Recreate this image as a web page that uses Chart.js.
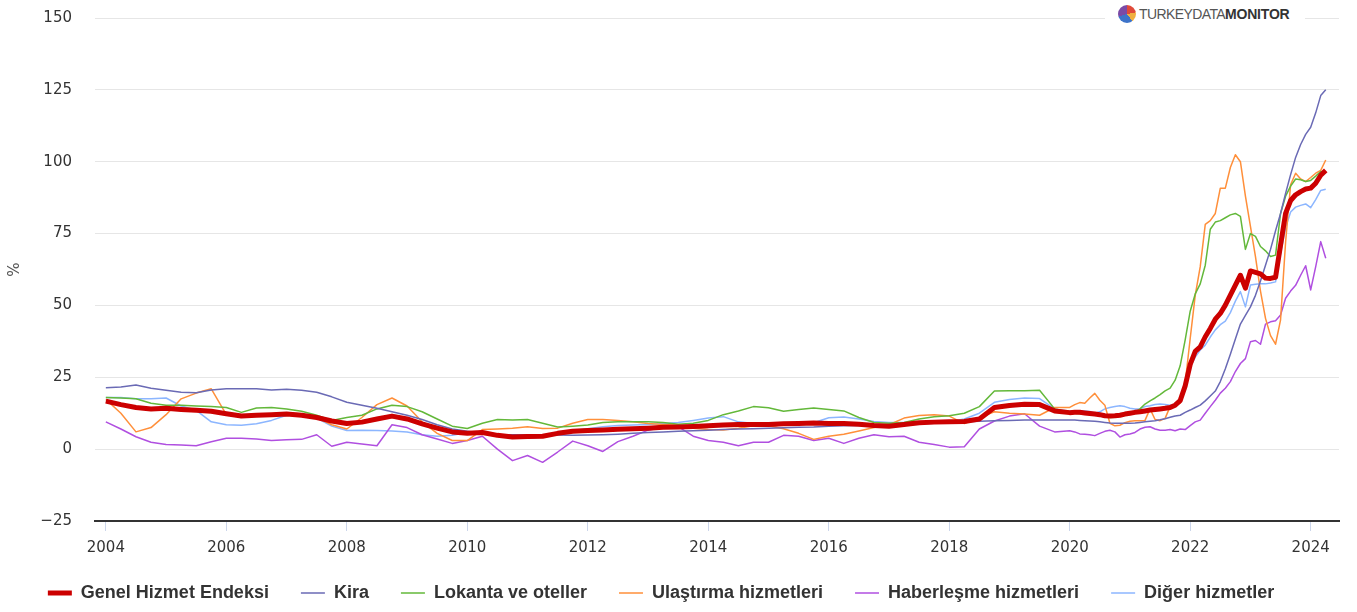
<!DOCTYPE html>
<html lang="tr">
<head>
<meta charset="utf-8">
<title>Hizmet enflasyonu</title>
<script src="https://cdn.jsdelivr.net/npm/chart.js@4.4.1/dist/chart.umd.min.js"></script>
<style>
  html, body { margin: 0; padding: 0; background: #fff; }
  #wrap { position: relative; width: 1357px; height: 612px; }
  #c { display: block; }
  #logo { position: absolute; left: 1105px; top: 3px; width: 200px; height: 22px; background: #fff;
          display: flex; align-items: center; font-family: "Liberation Sans", Arial, sans-serif; font-size: 14px; }
  #logo .ico { width: 18px; height: 18px; border-radius: 50%; margin-left: 13px; margin-right: 3px;
          background: conic-gradient(#e04a3a 0 22%, #f0b040 22% 40%, #3d73c9 40% 70%, #7b4aa6 70% 100%); }
  #logo .a { color: #555; letter-spacing: -0.6px; }
  #logo .b { color: #333; font-weight: bold; letter-spacing: -0.2px; }
</style>
</head>
<body>
<div id="wrap">
  <canvas id="c" width="1357" height="612"></canvas>
  <div id="logo"><div class="ico"></div><span class="a">TURKEYDATA</span><span class="b">MONITOR</span></div>
</div>
<script>
// Sampling dates: quarterly 2004-2019, monthly 2020-01 .. 2024-04
const periods = [
  '2004-01','2004-04','2004-07','2004-10','2005-01','2005-04','2005-07','2005-10',
  '2006-01','2006-04','2006-07','2006-10','2007-01','2007-04','2007-07','2007-10',
  '2008-01','2008-04','2008-07','2008-10','2009-01','2009-04','2009-07','2009-10',
  '2010-01','2010-04','2010-07','2010-10','2011-01','2011-04','2011-07','2011-10',
  '2012-01','2012-04','2012-07','2012-10','2013-01','2013-04','2013-07','2013-10',
  '2014-01','2014-04','2014-07','2014-10','2015-01','2015-04','2015-07','2015-10',
  '2016-01','2016-04','2016-07','2016-10','2017-01','2017-04','2017-07','2017-10',
  '2018-01','2018-04','2018-07','2018-10','2019-01','2019-04','2019-07','2019-10',
  '2020-01','2020-02','2020-03','2020-04','2020-05','2020-06','2020-07','2020-08','2020-09','2020-10','2020-11','2020-12',
  '2021-01','2021-02','2021-03','2021-04','2021-05','2021-06','2021-07','2021-08','2021-09','2021-10','2021-11','2021-12',
  '2022-01','2022-02','2022-03','2022-04','2022-05','2022-06','2022-07','2022-08','2022-09','2022-10','2022-11','2022-12',
  '2023-01','2023-02','2023-03','2023-04','2023-05','2023-06','2023-07','2023-08','2023-09','2023-10','2023-11','2023-12',
  '2024-01','2024-02','2024-03','2024-04'
];

const genel = [
  16.7,15.5,14.5,14.0, 14.2,13.8,13.5,13.2, 12.3,11.5,11.8,12.0, 12.2,11.8,11.0,9.8,
  8.9,9.4,10.5,11.5, 10.5,8.8,7.3,6.0, 5.5,5.8,4.8,4.2, 4.4,4.5,5.5,6.2,
  6.5,6.7,6.9,7.1, 7.3,7.6,7.7,7.9, 8.1,8.4,8.6,8.6, 8.6,8.8,8.9,9.1,
  8.9,8.9,8.7,8.2, 8.0,8.6,9.2,9.4, 9.5,9.6,10.5,14.5, 15.2,15.6,15.5,13.3,
  12.7,12.8,12.8,12.6,12.4,12.2,12.0,11.6,11.5,11.6,11.8,12.2,
  12.5,12.8,13.0,13.3,13.6,13.8,14.0,14.2,14.5,15.3,16.9,22.0,
  29.5,34.0,35.6,39.1,42.0,45.2,47.2,50.1,53.6,57.1,60.5,56.0,
  62.0,61.5,61.0,59.5,59.4,59.8,71.0,82.0,86.5,88.5,89.6,90.5,
  90.8,92.5,95.3,97.0
];
const kira = [
  21.4,21.6,22.3,21.2, 20.5,19.8,19.6,20.6, 21.0,21.0,21.0,20.6, 20.8,20.5,19.8,18.2,
  16.3,15.3,14.2,13.0, 11.8,10.3,8.5,7.0, 6.2,5.5,5.0,5.0, 4.9,4.9,4.9,4.8,
  4.9,5.0,5.2,5.5, 5.8,6.0,6.2,6.4, 6.6,6.8,7.0,7.1, 7.3,7.4,7.6,7.7,
  8.0,8.1,8.2,8.3, 8.4,8.5,8.8,9.0, 9.3,9.5,9.7,9.9, 10.0,10.1,10.1,10.1,
  10.1,10.1,10.0,9.9,9.8,9.7,9.5,9.3,9.1,9.0,9.0,9.0,
  9.0,9.1,9.3,9.5,9.7,9.9,10.2,10.6,11.1,11.5,11.8,12.8,
  13.6,14.5,15.3,16.8,18.5,20.2,23.5,28.0,33.0,38.3,43.5,46.5,
  49.5,53.5,58.5,64.0,69.5,76.0,82.0,89.0,95.5,101.5,106.0,109.5,
  112.0,117.0,123.0,125.0
];
const lokanta = [
  18.0,17.8,17.5,16.0, 15.3,15.3,15.0,14.8, 14.5,12.8,14.3,14.5, 14.0,13.2,11.8,10.0,
  11.0,11.8,14.0,15.3, 14.8,13.0,10.5,8.0, 7.2,9.0,10.3,10.1, 10.3,9.0,7.7,8.0,
  8.4,9.3,9.5,9.5, 9.5,9.3,8.7,9.0, 10.0,12.0,13.3,14.8, 14.4,13.2,13.8,14.3,
  13.8,13.3,11.0,9.3, 9.0,9.3,10.5,11.3, 11.6,12.5,14.8,20.2, 20.3,20.3,20.5,14.0,
  12.8,12.5,12.3,12.2,12.2,12.0,11.6,11.2,11.0,11.1,11.5,12.2,
  12.6,12.9,14.0,15.7,16.8,17.8,19.0,20.3,21.2,24.0,29.0,38.0,
  48.0,54.0,57.5,64.0,76.5,79.0,79.5,80.5,81.5,82.0,81.0,69.5,
  75.0,74.0,70.5,69.0,67.0,67.5,82.0,88.0,91.5,94.0,93.7,93.1,
  93.5,95.0,96.6,96.0
];
const ulastirma = [
  17.3,12.5,6.0,7.5, 12.0,17.5,19.5,21.0, 12.0,11.3,11.5,12.3, 12.5,12.3,11.0,8.5,
  7.0,11.0,15.5,17.8, 15.0,9.5,5.5,3.0, 3.0,6.8,7.0,7.3, 7.8,7.2,7.3,9.0,
  10.3,10.3,10.0,9.5, 8.9,8.6,8.3,7.3, 6.8,6.7,7.3,8.1, 8.1,7.1,5.5,3.4,
  4.5,5.2,6.3,7.5, 8.5,10.8,11.7,12.0, 11.5,8.9,11.0,13.0, 12.5,12.2,11.8,14.5,
  14.5,15.5,16.2,16.0,17.8,19.4,17.0,15.3,9.0,8.1,8.3,9.2,
  9.7,9.9,9.9,10.0,14.0,10.3,9.9,10.7,14.8,15.3,16.0,23.0,
  38.5,53.5,63.5,78.2,79.5,82.0,90.8,90.8,98.0,102.4,100.0,88.0,
  77.5,67.0,55.0,45.5,39.5,36.5,45.0,72.0,92.0,96.0,94.0,93.1,
  94.5,96.0,97.0,100.6
];
const haberlesme = [
  9.5,7.0,4.3,2.4, 1.6,1.4,1.2,2.6, 3.8,3.8,3.5,3.0, 3.3,3.4,5.0,1.0,
  2.4,1.8,1.2,8.5, 7.5,5.0,3.5,2.0, 3.0,4.5,0.0,-4.0, -2.2,-4.6,-1.0,2.8,
  1.2,-0.8,2.6,4.5, 6.6,7.6,7.8,4.5, 3.0,2.4,1.2,2.4, 2.4,4.8,4.5,3.0,
  3.8,2.0,3.8,5.0, 4.3,4.5,2.4,1.6, 0.7,0.8,7.0,9.8, 11.5,12.3,8.0,6.0,
  6.4,6.0,5.3,5.2,5.0,4.7,5.5,6.2,6.6,6.0,4.2,5.0,
  5.3,5.8,7.0,7.6,7.8,7.0,6.6,6.6,6.8,6.4,7.0,6.8,
  8.2,9.5,10.1,12.5,14.8,17.0,19.5,21.2,23.5,27.0,29.8,31.5,
  37.4,37.8,36.5,43.5,44.3,44.7,46.7,52.5,55.0,57.0,60.5,63.8,
  55.4,63.5,72.2,66.4
];
const diger = [
  18.0,18.0,17.5,17.5, 17.8,15.0,13.5,9.5, 8.5,8.3,8.8,10.0, 11.8,11.8,10.8,8.0,
  6.5,6.6,6.5,6.3, 6.0,5.0,4.5,4.8, 5.8,5.5,4.8,4.0, 3.8,4.2,5.3,6.5,
  7.1,7.8,8.2,8.4, 8.6,8.9,9.3,10.0, 10.8,11.3,9.5,8.9, 9.2,9.0,9.4,9.2,
  10.9,11.2,10.5,9.6, 9.3,9.3,9.3,9.4, 9.5,10.5,12.5,16.3, 17.3,17.8,17.6,14.0,
  13.2,13.4,13.4,13.3,13.1,12.5,13.0,14.0,14.5,14.8,15.1,14.8,
  14.2,14.0,14.0,14.8,15.1,15.5,15.7,15.5,15.3,15.6,16.5,20.5,
  28.5,32.0,34.5,36.2,39.0,41.5,43.3,44.5,47.5,51.5,54.8,49.5,
  57.1,57.4,57.5,57.5,57.8,58.2,68.0,77.0,82.5,84.2,84.8,85.3,
  84.0,86.8,90.0,90.4
];

const seriesNames = ['Genel Hizmet Endeksi','Kira','Lokanta ve oteller','Ulaştırma hizmetleri','Haberleşme hizmetleri','Diğer hizmetler'];
const yTicks = [-25, 0, 25, 50, 75, 100, 125, 150];
const xTickYears = [2004, 2006, 2008, 2010, 2012, 2014, 2016, 2018, 2020, 2022, 2024];

const toX = p => { const [y, m] = p.split('-').map(Number); return y + (m - 1) / 12; };
const pts = vals => vals.map((v, i) => ({ x: toX(periods[i]), y: v }));

const colors = ['#cc0000', '#6a6ab5', '#63b83a', '#ff8f3a', '#b04fe0', '#8cb6ff'];
const widths = [5, 1.5, 1.5, 1.5, 1.5, 1.5];
const allVals = [genel, kira, lokanta, ulastirma, haberlesme, diger];

const datasets = allVals.map((vals, i) => ({
  label: seriesNames[i],
  data: pts(vals),
  borderColor: colors[i],
  backgroundColor: colors[i],
  borderWidth: widths[i],
  pointRadius: 0,
  pointHoverRadius: 0,
  tension: 0,
  borderJoinStyle: 'round',
  fill: false
}));

const tickFont = { family: '"DejaVu Sans", Verdana, sans-serif', size: 15 };

const legendShift = {
  id: 'legendShift',
  afterLayout(chart) {
    const lg = chart.legend;
    if (lg) { lg.right -= 17; }
  }
};

new Chart(document.getElementById('c'), {
  type: 'line',
  data: { datasets },
  plugins: [legendShift],
  options: {
    responsive: false,
    animation: false,
    devicePixelRatio: 1,
    layout: { padding: { top: 18, right: 18, bottom: 0, left: 0 } },
    plugins: {
      tooltip: { enabled: false },
      legend: {
        position: 'bottom',
        labels: {
          usePointStyle: true,
          pointStyle: 'line',
          pointStyleWidth: 24,
          padding: 32,
          color: '#333',
          font: { family: '"Liberation Sans", Arial, sans-serif', size: 18, weight: 'bold' }
        }
      }
    },
    scales: {
      x: {
        type: 'linear',
        min: 2003.82,
        max: 2024.47,
        afterBuildTicks: s => { s.ticks = xTickYears.map(v => ({ value: v })); },
        afterFit: s => { s.height = 31; },
        ticks: {
          color: '#333',
          font: tickFont,
          padding: 8,
          maxRotation: 0,
          autoSkip: false,
          callback: v => String(v)
        },
        grid: { display: true, drawOnChartArea: false, drawTicks: true, tickLength: 10, tickColor: '#ccd6eb', lineWidth: 1 },
        border: { display: true, color: '#333', width: 2 }
      },
      y: {
        min: -25,
        max: 150,
        afterBuildTicks: s => { s.ticks = yTicks.map(v => ({ value: v })); },
        afterFit: s => { s.width = 95; s.paddingTop = 0; s.paddingBottom = 0; },
        ticks: {
          color: '#333',
          font: tickFont,
          padding: 23,
          callback: v => (v < 0 ? '\u2212' + Math.abs(v) : String(v))
        },
        grid: { color: '#e6e6e6', lineWidth: 1, drawTicks: false },
        border: { display: false },
        title: { display: true, text: '%', color: '#555', font: tickFont, padding: { top: 6, bottom: 0 } }
      }
    }
  }
});
</script>
</body>
</html>
